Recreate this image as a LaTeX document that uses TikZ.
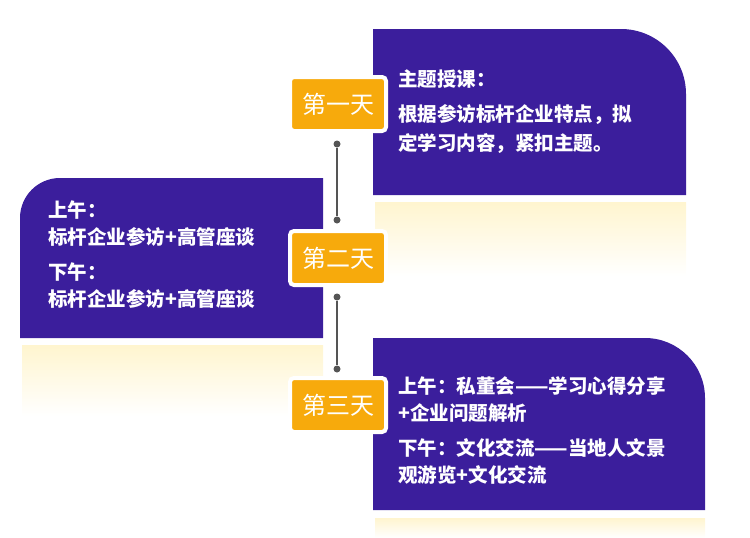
\documentclass[tikz,border=0pt]{standalone}
\usepackage{fontspec}
\setmainfont{Noto Sans CJK SC}
\begin{document}
\begin{tikzpicture}[x=1pt,y=-1pt,
  card/.style={fill=purp,draw=none},
  fade/.style={top color=yel,bottom color=white,draw=none},
  day/.style={fill=org,draw=white,line width=4pt,rounded corners=4pt,minimum width=96pt,minimum height=54pt,text=white,font=\fontsize{24}{26}\selectfont,inner sep=0pt},
  txt/.style={text=white,font=\bfseries\fontsize{19.5}{27}\selectfont,align=left,anchor=north west,inner sep=0pt},
  dot/.style={circle,fill=lin,inner sep=0pt,minimum size=7pt}]
\definecolor{purp}{HTML}{3B1E9C}
\definecolor{org}{HTML}{F7AA0C}
\definecolor{yel}{HTML}{FFF5CF}
\definecolor{lin}{HTML}{555555}
\useasboundingbox (0,0) rectangle (750,538);
% top card
\fill[card] (373,195) -- (373,29) -- (621,29) arc[start angle=-90,end angle=0,radius=65] -- (686,195) -- cycle;
\shade[fade] (375,202) rectangle (686,276);
% left card
\fill[card] (20,338) -- (20,218) arc[start angle=180,end angle=270,radius=40] -- (323,178) -- (323,338) -- cycle;
\shade[fade] (22,345) rectangle (323,416);
% bottom card
\fill[card] (373,510) -- (373,338) -- (645,338) arc[start angle=-90,end angle=0,radius=60] -- (705,510) -- cycle;
\shade[fade] (375,518) rectangle (705,538);
% days
\node[day] (d1) at (338,104) {第一天};
\node[day] (d2) at (338,258) {第二天};
\node[day] (d3) at (338,405) {第三天};
\node[dot] (a1) at (337,144) {};
\node[dot] (b1) at (337,220) {};
\node[dot] (a2) at (337,297) {};
\node[dot] (b2) at (337,369) {};
\draw[lin,line width=1.5pt] (a1) -- (b1);
\draw[lin,line width=1.5pt] (a2) -- (b2);
% texts
\node[txt] (t1) at (398,70) {主题授课：};
\node[txt,font=\bfseries\fontsize{19.5}{29}\selectfont] (t1b) at (398,104) {根据参访标杆企业特点，拟\\定学习内容，紧扣主题。};
\node[txt] (t2) at (48,201) {上午：\\标杆企业参访+高管座谈};
\node[txt] (t3) at (48,263) {下午：\\标杆企业参访+高管座谈};
\node[txt] (t4) at (398,376) {上午：私董会——学习心得分享\\+企业问题解析};
\node[txt] (t5) at (398,438) {下午：文化交流——当地人文景\\观游览+文化交流};
\end{tikzpicture}
\end{document}
